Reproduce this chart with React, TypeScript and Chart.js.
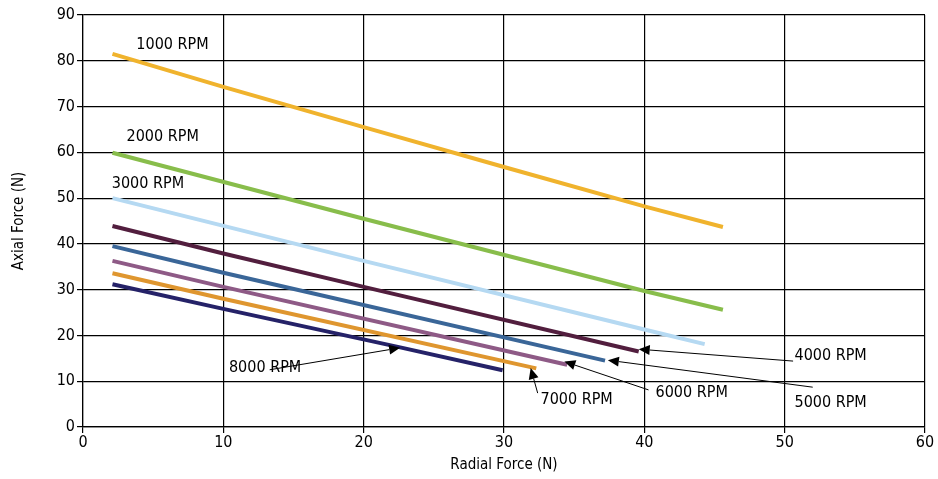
import React, { useEffect, useRef } from "react";
import { Chart, registerables } from "chart.js";

Chart.register(...registerables);

const FONT = "'Liberation Sans Narrow', 'DejaVu Sans Condensed', Arial, sans-serif";

const seriesNames = ["1000 RPM", "2000 RPM", "3000 RPM", "4000 RPM", "5000 RPM", "6000 RPM", "7000 RPM", "8000 RPM"];
const seriesColors = ["#F0B32D", "#88BD4B", "#B5D9F2", "#521E3E", "#3A6698", "#8E5A86", "#DF962F", "#252268"];

const radial1000 = [2.1, 10, 20, 30, 40, 45.6];
const axial1000 = [81.5, 74.3, 65.5, 56.8, 48.2, 43.7];
const radial2000 = [2.1, 20, 40, 45.6];
const axial2000 = [59.9, 45.5, 29.7, 25.6];
const radial3000 = [2.1, 20, 40, 44.3];
const axial3000 = [50.0, 36.3, 21.3, 18.1];
const radial4000 = [2.1, 10, 20, 39.6];
const axial4000 = [43.9, 37.9, 30.6, 16.5];
const radial5000 = [2.1, 10, 37.2];
const axial5000 = [39.5, 33.7, 14.5];
const radial6000 = [2.1, 10, 34.5];
const axial6000 = [36.3, 30.6, 13.6];
const radial7000 = [2.1, 10, 32.3];
const axial7000 = [33.6, 28.0, 12.8];
const radial8000 = [2.1, 10, 22.6, 29.9];
const axial8000 = [31.2, 25.8, 17.4, 12.4];

const radialSeries = [radial1000, radial2000, radial3000, radial4000, radial5000, radial6000, radial7000, radial8000];
const axialSeries = [axial1000, axial2000, axial3000, axial4000, axial5000, axial6000, axial7000, axial8000];

// plain labels: [text, x, y]
const plainLabels: [string, number, number][] = [
  ["1000 RPM", 3.8, 83.5],
  ["2000 RPM", 3.1, 63.3],
  ["3000 RPM", 2.05, 53.1],
];
// arrow labels: [text, textX, textY, fromX, fromY, toX, toY]
const arrowLabels: [string, number, number, number, number, number, number][] = [
  ["8000 RPM", 10.4, 12.9, 13.3, 12.5, 22.6, 17.3],
  ["7000 RPM", 32.6, 5.9, 32.4, 7.4, 31.9, 12.9],
  ["6000 RPM", 40.8, 7.4, 40.3, 8.1, 34.3, 14.3],
  ["5000 RPM", 50.7, 5.2, 52.0, 8.7, 37.4, 14.6],
  ["4000 RPM", 50.7, 15.5, 50.6, 14.4, 39.6, 17.0],
];

const annotationPlugin = {
  id: "rpmAnnotations",
  afterDatasetsDraw(chart: any) {
    const { ctx, scales } = chart;
    const xs = scales.x;
    const ys = scales.y;
    ctx.save();
    ctx.font = `16px ${FONT}`;
    ctx.fillStyle = "#000";
    ctx.textBaseline = "middle";
    ctx.textAlign = "left";
    for (const [t, x, y] of plainLabels) {
      ctx.fillText(t, xs.getPixelForValue(x), ys.getPixelForValue(y));
    }
    for (const [t, tx, ty] of arrowLabels) {
      ctx.fillText(t, xs.getPixelForValue(tx), ys.getPixelForValue(ty));
    }
    ctx.strokeStyle = "#000";
    ctx.lineWidth = 1;
    for (const [, , , fx, fy, tx, ty] of arrowLabels) {
      const x1 = xs.getPixelForValue(fx);
      const y1 = ys.getPixelForValue(fy);
      const x2 = xs.getPixelForValue(tx);
      const y2 = ys.getPixelForValue(ty);
      const ang = Math.atan2(y2 - y1, x2 - x1);
      const hl = 11;
      const hw = 5;
      const bx = x2 - hl * Math.cos(ang);
      const by = y2 - hl * Math.sin(ang);
      ctx.beginPath();
      ctx.moveTo(x1, y1);
      ctx.lineTo(bx, by);
      ctx.stroke();
      ctx.beginPath();
      ctx.moveTo(x2, y2);
      ctx.lineTo(bx - hw * Math.sin(ang), by + hw * Math.cos(ang));
      ctx.lineTo(bx + hw * Math.sin(ang), by - hw * Math.cos(ang));
      ctx.closePath();
      ctx.fill();
    }
    ctx.restore();
  },
};

export default function App() {
  const ref = useRef<HTMLCanvasElement>(null);
  useEffect(() => {
    document.body.style.margin = "0";
    const datasets = seriesNames.map((name, i) => ({
      label: name,
      data: radialSeries[i].map((x, j) => ({ x, y: axialSeries[i][j] })),
      borderColor: seriesColors[i],
      backgroundColor: seriesColors[i],
      borderWidth: 4,
      borderCapStyle: "butt" as const,
      pointRadius: 0,
      showLine: true,
      fill: false,
      tension: 0,
    }));
    const chart = new Chart(ref.current!, {
      type: "scatter",
      data: { datasets },
      plugins: [annotationPlugin],
      options: {
        animation: false,
        responsive: false,
        layout: { padding: { top: 15, right: 13, left: 0, bottom: 0 } },
        plugins: { legend: { display: false }, tooltip: { enabled: false } },
        scales: {
          x: {
            type: "linear",
            min: 0,
            max: 60,
            afterFit: (s: any) => { s.height = 52; },
            ticks: { stepSize: 10, color: "#000", font: { family: FONT, size: 16 }, padding: 0, maxRotation: 0 },
            grid: { color: "#000", lineWidth: 1.2, tickLength: 6, tickColor: "#000" },
            border: { color: "#000", width: 1.2 },
            title: { display: true, text: "Radial Force (N)", color: "#000", font: { family: FONT, size: 15 }, padding: { top: 0, bottom: 5 } },
          },
          y: {
            type: "linear",
            min: 0,
            max: 90,
            afterFit: (s: any) => { s.width = 83; },
            ticks: { stepSize: 10, color: "#000", font: { family: FONT, size: 16 }, padding: 2 },
            grid: { color: "#000", lineWidth: 1.2, tickLength: 6, tickColor: "#000" },
            border: { color: "#000", width: 1.2 },
            title: { display: true, text: "Axial Force (N)", color: "#000", font: { family: FONT, size: 15 }, padding: { top: 10, bottom: 0 } },
          },
        },
      },
    });
    return () => chart.destroy();
  }, []);
  return <canvas ref={ref} width={938} height={479} style={{ display: "block" }} />;
}
